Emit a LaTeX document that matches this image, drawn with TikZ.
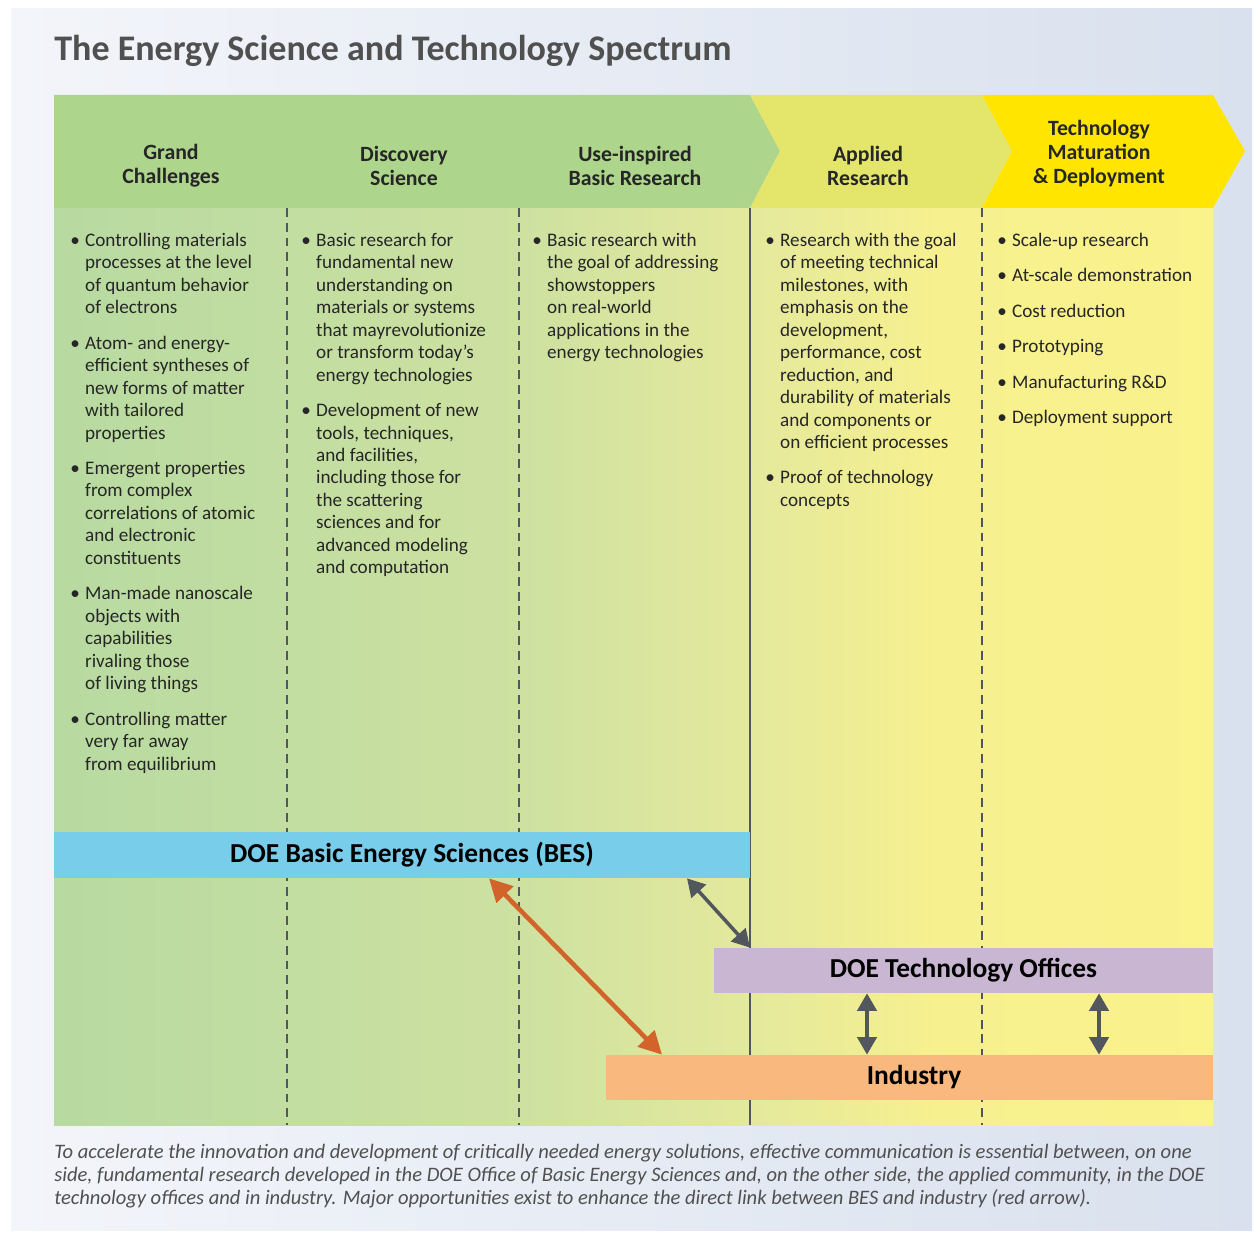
\documentclass[tikz,border=0pt]{standalone}
\usepackage{fontspec}
\setmainfont{Carlito}
\usetikzlibrary{arrows.meta}

\definecolor{paperL}{HTML}{F3F5FA}
\definecolor{paperR}{HTML}{D9E1EE}
\definecolor{hdGreen}{HTML}{AED58C}
\definecolor{hdApplied}{HTML}{E4E66C}
\definecolor{hdTech}{HTML}{FFE500}
\definecolor{bodyA}{HTML}{B7DAA1}
\definecolor{bodyB}{HTML}{CDE1A1}
\definecolor{bodyC}{HTML}{E4E99C}
\definecolor{bodyD}{HTML}{F6F08F}
\definecolor{bodyE}{HTML}{FAF28B}
\definecolor{besBlue}{HTML}{77CDEA}
\definecolor{officeLilac}{HTML}{C9B6D2}
\definecolor{industryOrange}{HTML}{F9B87D}
\definecolor{redArrow}{HTML}{D2632B}
\definecolor{greyArrow}{HTML}{52575E}
\definecolor{titleGrey}{HTML}{505050}
\definecolor{textGrey}{HTML}{262626}

\pgfdeclarehorizontalshading{paper}{100bp}{color(0bp)=(paperL); color(25bp)=(paperL); color(75bp)=(paperR); color(100bp)=(paperR)}
\pgfdeclarehorizontalshading{spectrum}{100bp}{color(0bp)=(bodyA); color(25bp)=(bodyA); color(45bp)=(bodyB); color(55bp)=(bodyC); color(63bp)=(bodyD); color(75bp)=(bodyE); color(100bp)=(bodyE)}

\tikzset{
  headtext/.style={align=center, text=textGrey, font=\fontsize{12.4}{13.7}\selectfont\bfseries},
  coltext/.style={anchor=north west, inner sep=0pt, text=textGrey, font=\fontsize{10.9}{12.8}\selectfont},
  bar/.style={inner sep=0pt, text=black, font=\fontsize{15.6}{18}\selectfont\bfseries},
  divider/.style={greyArrow, line width=0.7pt, dash pattern=on 5pt off 3.4pt},
  link/.style={line width=2pt, greyArrow, {Triangle[length=10pt,width=11pt]}-{Triangle[length=10pt,width=11pt]}},
  redlink/.style={line width=2.6pt, redArrow, {Triangle[length=13pt,width=13pt]}-{Triangle[length=13pt,width=13pt]}}
}

\newcommand{\bl}{\textbullet}

\begin{document}
\begin{tikzpicture}[x=0.02cm, y=-0.02cm]
			%%%%% START %%%%%
			\useasboundingbox (0,0) rectangle (1254,1233);
			\fill[white] (0,0) rectangle (1254,1233);
			\shade[shading=paper] (11,9) rectangle (1252,1230);
			
			\node[anchor=west, inner sep=0pt, text=titleGrey, font=\fontsize{20.5}{24}\selectfont\bfseries] (title) at (54,51) {The Energy Science and Technology Spectrum};
			
			% body of the spectrum
			\shade[shading=spectrum] (54,208) rectangle (1213,1125);
			
			% header chevrons
			\fill[hdGreen] (54,95) -- (750,95) -- (780,151) -- (750,208) -- (54,208) -- cycle;
			\fill[hdApplied] (750,95) -- (982,95) -- (1012,151) -- (982,208) -- (750,208) -- (780,151) -- cycle;
			\fill[hdTech] (982,95) -- (1213,95) -- (1245,151) -- (1213,208) -- (982,208) -- (1012,151) -- cycle;
			
			\node[headtext] (hdGrand) at (171,166) {Grand\\Challenges};
			\node[headtext] (hdDiscovery) at (404,166) {Discovery\\Science};
			\node[headtext] (hdUse) at (635,166) {Use-inspired\\Basic Research};
			\node[headtext] (hdApplied) at (868,166) {Applied\\Research};
			\node[headtext] (hdTech) at (1099,154) {Technology\\Maturation\\\& Deployment};
			
			% column dividers
			\draw[divider] (287,208) -- (287,1125);
			\draw[divider] (519,208) -- (519,1125);
			\draw[divider] (982,208) -- (982,1125);
			\draw[greyArrow, line width=0.8pt] (750,208) -- (750,1125);
			
			% column texts
			\node[coltext] (txtGrand) at (70,230) {\begin{tabular}{@{}l@{\hspace{3pt}}l@{}}
				\bl & Controlling materials\\
				& processes at the level\\
				& of quantum behavior\\
				& of electrons\\[7.4pt]
				\bl & Atom- and energy-\\
				& efficient syntheses of\\
				& new forms of matter\\
				& with tailored\\
				& properties\\[7.4pt]
				\bl & Emergent properties\\
				& from complex\\
				& correlations of atomic\\
				& and electronic\\
				& constituents\\[7.4pt]
				\bl & Man-made nanoscale\\
				& objects with\\
				& capabilities\\
				& rivaling those\\
				& of living things\\[7.4pt]
				\bl & Controlling matter\\
				& very far away\\
				& from equilibrium
			\end{tabular}};
			
			\node[coltext] (txtDiscovery) at (301,230) {\begin{tabular}{@{}l@{\hspace{3pt}}l@{}}
				\bl & Basic research for\\
				& fundamental new\\
				& understanding on\\
				& materials or systems\\
				& that mayrevolutionize\\
				& or transform today’s\\
				& energy technologies\\[7.4pt]
				\bl & Development of new\\
				& tools, techniques,\\
				& and facilities,\\
				& including those for\\
				& the scattering\\
				& sciences and for\\
				& advanced modeling\\
				& and computation
			\end{tabular}};
			
			\node[coltext] (txtUse) at (532,230) {\begin{tabular}{@{}l@{\hspace{3pt}}l@{}}
				\bl & Basic research with\\
				& the goal of addressing\\
				& showstoppers\\
				& on real-world\\
				& applications in the\\
				& energy technologies
			\end{tabular}};
			
			\node[coltext] (txtApplied) at (765,230) {\begin{tabular}{@{}l@{\hspace{3pt}}l@{}}
				\bl & Research with the goal\\
				& of meeting technical\\
				& milestones, with\\
				& emphasis on the\\
				& development,\\
				& performance, cost\\
				& reduction, and\\
				& durability of materials\\
				& and components or\\
				& on efficient processes\\[7.4pt]
				\bl & Proof of technology\\
				& concepts
			\end{tabular}};
			
			\node[coltext] (txtTech) at (997,230) {\begin{tabular}{@{}l@{\hspace{3pt}}l@{}}
				\bl & Scale-up research\\[7.4pt]
				\bl & At-scale demonstration\\[7.4pt]
				\bl & Cost reduction\\[7.4pt]
				\bl & Prototyping\\[7.4pt]
				\bl & Manufacturing R\&D\\[7.4pt]
				\bl & Deployment support
			\end{tabular}};
			
			% programme bars
			\node[bar, fill=besBlue, minimum width=13.92cm, minimum height=0.92cm] (bes) at (402,855) {\hspace*{0.4cm}DOE Basic Energy Sciences (BES)};
			\node[bar, fill=officeLilac, minimum width=9.98cm, minimum height=0.9cm] (offices) at (963.5,970.5) {DOE Technology Offices};
			\node[bar, fill=industryOrange, minimum width=12.14cm, minimum height=0.9cm] (industry) at (909.5,1077.5) {\hspace*{0.18cm}Industry};
			
			% links
			\draw[redlink] (bes.south -| 489,0) -- (industry.north -| 662,0);
			\draw[link] (bes.south -| 687,0) -- (offices.north -| 750,0);
			\draw[link] (offices.south -| 867,0) -- (industry.north -| 867,0);
			\draw[link] (offices.south -| 1099,0) -- (industry.north -| 1099,0);
			
			% caption
			\node[anchor=north west, inner sep=0pt, align=left, text=titleGrey, font=\fontsize{11.7}{13.1}\selectfont\itshape] (caption) at (54,1144) {To accelerate the innovation and development of critically needed energy solutions, effective communication is essential between, on one\\
				side, fundamental research developed in the DOE Office of Basic Energy Sciences and, on the other side, the applied community, in the DOE\\
				technology offices and in industry. Major opportunities exist to enhance the direct link between BES and industry (red arrow).};
			
			%%%%% END %%%%%
		\end{tikzpicture}
\end{document}
